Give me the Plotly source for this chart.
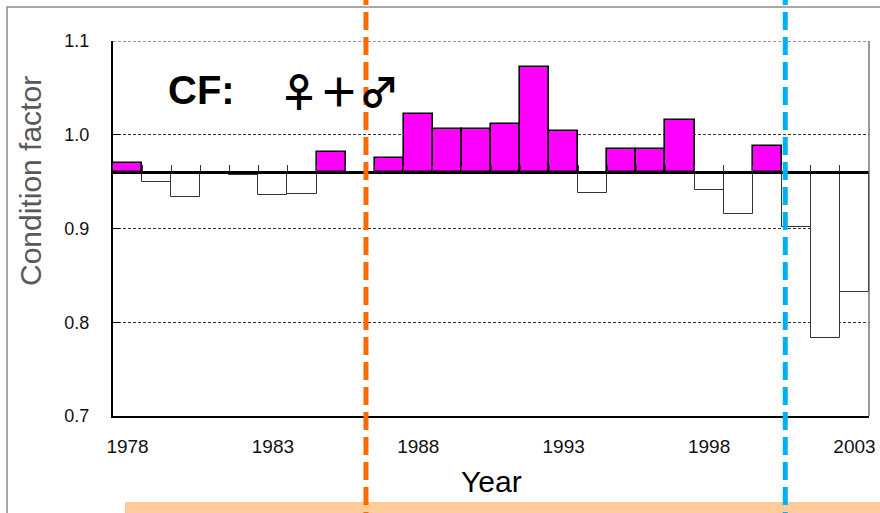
import plotly.graph_objects as go

years = list(range(1978, 2004))
cf_values = [0.970, 0.950, 0.934, 0.959, 0.957, 0.936, 0.937, 0.982, 0.959, 0.975,
             1.022, 1.006, 1.006, 1.011, 1.072, 1.004, 0.938, 0.985, 0.985, 1.016,
             0.941, 0.916, 0.988, 0.902, 0.783, 0.832]
base_value = 0.96
y_ticks = [0.7, 0.8, 0.9, 1.0, 1.1]
x_tick_years = [1978, 1983, 1988, 1993, 1998, 2003]
orange_line_year = 1986.2
blue_line_year = 2000.62

W, H = 880, 513
L, R, T, B = 113, 11, 41, 97
pw, ph = W - L - R, H - T - B

def px_x(p):
    return (p - L) / pw

def px_y(p):
    return (H - B - p) / ph

above = [v > base_value for v in cf_values]
colors = ["#FF00FF" if a else "#FFFFFF" for a in above]
lcolors = ["#000000" if a else "#333333" for a in above]
lwidths = [1.6 if a else 1.0 for a in above]

fig = go.Figure()
fig.add_trace(go.Bar(
    x=years, y=[v - base_value for v in cf_values], base=base_value, width=1.0,
    marker=dict(color=colors, line=dict(color=lcolors, width=lwidths)),
    showlegend=False, hoverinfo="skip",
))
# dummy trace on the baseline axis
fig.add_trace(go.Scatter(x=[years[0]], y=[base_value], xaxis="x2", mode="markers",
                         marker=dict(opacity=0), showlegend=False, hoverinfo="skip"))

xr = [years[0] - 0.5, years[-1] + 0.5]
boundaries = [y - 0.5 for y in years] + [years[-1] + 0.5]

fig.update_layout(
    width=W, height=H,
    margin=dict(l=L, r=R, t=T, b=B, autoexpand=False),
    paper_bgcolor="white", plot_bgcolor="white",
    bargap=0,
    xaxis=dict(range=xr, tickvals=x_tick_years, ticktext=[str(y) for y in x_tick_years],
               ticks="outside", ticklen=12, tickcolor="rgba(0,0,0,0)",
               showline=True, linecolor="#000000", linewidth=1.5,
               showgrid=False, zeroline=False,
               tickfont=dict(family="Arial", size=19, color="#111111")),
    xaxis2=dict(range=xr, overlaying="x", anchor="free",
                position=(base_value - y_ticks[0]) / (y_ticks[-1] - y_ticks[0]),
                tickvals=boundaries, ticks="inside", ticklen=7, tickcolor="#333333", tickwidth=1,
                showticklabels=False, showline=True, linecolor="#000000", linewidth=2.5,
                showgrid=False, zeroline=False),
    yaxis=dict(range=[y_ticks[0], y_ticks[-1]], tickvals=y_ticks,
               ticktext=[f"{v:.1f}" for v in y_ticks],
               ticks="inside", ticklen=7, tickcolor="#000000",
               ticklabelstandoff=18,
               showline=True, linecolor="#000000", linewidth=2,
               showgrid=True, gridcolor="#333333", gridwidth=1, griddash="3px,2px",
               zeroline=False,
               tickfont=dict(family="Arial", size=18, color="#111111")),
)

shapes = [
    # outer frame
    dict(type="rect", xref="paper", yref="paper", x0=px_x(7), x1=px_x(900),
         y0=px_y(530), y1=px_y(7), line=dict(color="#8c8c8c", width=1.5), layer="below"),
    # top gridline at the range edge
    dict(type="line", xref="paper", yref="y", x0=0, x1=1, y0=y_ticks[-1], y1=y_ticks[-1],
         line=dict(color="#333333", width=1, dash="3px,2px")),
    # right border of plot
    dict(type="line", xref="paper", yref="paper", x0=1, x1=1, y0=0, y1=1,
         line=dict(color="#555555", width=1.2)),
    # peach band
    dict(type="rect", xref="paper", yref="paper", x0=px_x(125), x1=px_x(900),
         y0=px_y(530), y1=px_y(502), fillcolor="#FFCC99", line=dict(width=0), layer="below"),
    dict(type="line", xref="x", yref="paper", x0=orange_line_year, x1=orange_line_year,
         y0=px_y(530), y1=px_y(-10), line=dict(color="#FF6A00", width=5, dash="18px,7px")),
    dict(type="line", xref="x", yref="paper", x0=blue_line_year, x1=blue_line_year,
         y0=px_y(530), y1=px_y(-10), line=dict(color="#00B0F0", width=5, dash="18px,7px")),
]
fig.update_layout(shapes=shapes)

fig.add_annotation(text="<b>CF:</b>", xref="paper", yref="paper", x=px_x(166), y=px_y(90),
                   xanchor="left", yanchor="middle", showarrow=False,
                   font=dict(family="Arial", size=40, color="#000000"))
fig.add_annotation(text="<b>♀＋♂</b>", xref="paper", yref="paper", x=px_x(339), y=px_y(90),
                   xanchor="center", yanchor="middle", showarrow=False,
                   font=dict(family="Noto Sans CJK JP", size=40, color="#000000"))
fig.add_annotation(text="Condition factor", xref="paper", yref="paper", x=px_x(31), y=px_y(181),
                   xanchor="center", yanchor="middle", textangle=-90, showarrow=False,
                   font=dict(family="Arial", size=30, color="#595959"))
fig.add_annotation(text="Year", xref="paper", yref="paper", x=0.5, y=px_y(481),
                   xanchor="center", yanchor="middle", showarrow=False,
                   font=dict(family="Arial", size=30, color="#000000"))

fig.write_html("out.html", config={"displayModeBar": False},
               post_script="document.body.style.margin='0';document.body.style.overflow='hidden';")
